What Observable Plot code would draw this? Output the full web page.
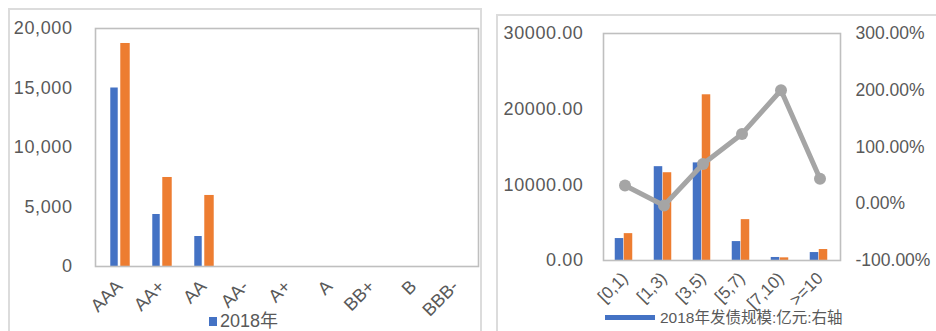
<!DOCTYPE html>
<html><head><meta charset="utf-8">
<script src="https://cdn.jsdelivr.net/npm/d3@7"></script>
<script src="https://cdn.jsdelivr.net/npm/@observablehq/plot@0.6"></script>
<style>
html,body{margin:0;padding:0;background:#fff;width:936px;height:331px;overflow:hidden;}
.layer{position:absolute;left:0;top:0;}
.panel{position:absolute;border:2px solid #dcdcdc;box-sizing:border-box;}
.legend{position:absolute;font-family:"Liberation Sans","Noto Sans CJK SC",sans-serif;color:#595959;white-space:nowrap;}
svg{overflow:visible}
.spaced g[aria-label="y-axis tick label"] text{letter-spacing:0.6px}
</style></head>
<body>
<div class="panel" style="left:8px;top:8px;width:474px;height:340px;"></div>
<div class="panel" style="left:496px;top:14px;width:460px;height:340px;"></div>
<div id="a" class="layer spaced"></div>
<div id="b" class="layer spaced"></div>
<div id="c" class="layer"></div>
<div class="legend" style="left:209px;top:306px;font-size:18px;"><span style="display:inline-block;width:8px;height:9px;background:#4472C4;margin-right:3px;vertical-align:1px"></span>2018年</div>
<div class="legend" style="left:605px;top:305px;font-size:15.5px;"><span style="display:inline-block;width:50px;height:5px;background:#4472C4;margin-right:5px;vertical-align:3px"></span>2018年发债规模:亿元:右轴</div>
<script>
// Left chart data
const ratings = ["AAA","AA+","AA","AA-","A+","A","BB+","B","BBB-"];
const ratingBlue = [15000, 4370, 2520, 0, 0, 0, 0, 0, 0];
const ratingOrange = [18740, 7480, 5970, 0, 0, 0, 0, 0, 0];
const leftTicks = [0, 5000, 10000, 15000, 20000];

// Right chart data
const terms = ["[0,1)","[1,3)","[3,5)","[5,7)","[7,10)",">=10"];
const termBlue = [2900, 12400, 12900, 2500, 400, 1050];
const termOrange = [3550, 11600, 21900, 5400, 350, 1450];
const termPct = [32, -3, 70, 123, 200, 44];
const rightLeftTicks = [0, 10000, 20000, 30000];
const rightRightTicks = [-100, 0, 100, 200, 300];

const FONT = '"Liberation Sans","Noto Sans CJK SC",sans-serif';
const W = 936, H = 331;
const BLUE = "#4472C4", ORANGE = "#ED7D31", GRAY = "#A5A5A5", FRAME = "#bfbfbf", TXT = "#595959";

function styleSvg(svg){ svg.style.fontFamily = FONT; svg.style.background = "transparent"; return svg; }

// ---- Left chart
{
  const mL = 95, mR = W - 478, mT = 28, mB = H - 266;
  const bw = (W - mL - mR) / ratings.length;
  const rows = ratings.map((r,i)=>({r, blue: ratingBlue[i], orange: ratingOrange[i]}));
  const svg = Plot.plot({
    width: W, height: H, marginLeft: mL, marginRight: mR, marginTop: mT, marginBottom: mB,
    style: {fontFamily: FONT, background: "transparent", color: TXT},
    x: {domain: ratings, padding: 0},
    y: {domain: [0, 20000]},
    marks: [
      Plot.barY(rows, {x: "r", y: "blue", fill: BLUE, insetLeft: bw/2 - 9, insetRight: bw/2 + 1}),
      Plot.barY(rows, {x: "r", y: "orange", fill: ORANGE, insetLeft: bw/2 + 1, insetRight: bw/2 - 11}),
      Plot.frame({stroke: FRAME, strokeWidth: 1.6}),
      Plot.axisY({ticks: leftTicks, tickFormat: d3.format(","), tickSize: 0, tickPadding: 23, fontSize: 18, label: null, fill: TXT}),
      Plot.axisX({tickSize: 0, tickPadding: 17, tickRotate: -45, fontSize: 18, label: null, fill: TXT})
    ]
  });
  document.getElementById("a").append(styleSvg(svg));
}

// ---- Right chart (bars, left axis)
const rmL = 603, rmR = W - 840, rmT = 33, rmB = H - 260;
{
  const bw = (W - rmL - rmR) / terms.length;
  const rows = terms.map((t,i)=>({t, blue: termBlue[i], orange: termOrange[i]}));
  const svg = Plot.plot({
    width: W, height: H, marginLeft: rmL, marginRight: rmR, marginTop: rmT, marginBottom: rmB,
    style: {fontFamily: FONT, background: "transparent", color: TXT},
    x: {domain: terms, padding: 0},
    y: {domain: [0, 30000]},
    marks: [
      Plot.barY(rows, {x: "t", y: "blue", fill: BLUE, insetLeft: bw/2 - 10, insetRight: bw/2 + 1}),
      Plot.barY(rows, {x: "t", y: "orange", fill: ORANGE, insetLeft: bw/2 - 1, insetRight: bw/2 - 8}),
      Plot.frame({stroke: FRAME, strokeWidth: 1.6}),
      Plot.axisY({ticks: rightLeftTicks, tickFormat: d3.format(".2f"), tickSize: 0, tickPadding: 20, fontSize: 18, label: null, fill: TXT}),
      Plot.axisX({tickSize: 0, tickPadding: 15, tickRotate: -45, fontSize: 17, label: null, fill: TXT})
    ]
  });
  document.getElementById("b").append(styleSvg(svg));
}

// ---- Right chart (line, right axis)
{
  const rows = terms.map((t,i)=>({t, p: termPct[i]}));
  const svg = Plot.plot({
    width: W, height: H, marginLeft: rmL, marginRight: rmR, marginTop: rmT, marginBottom: rmB,
    style: {fontFamily: FONT, background: "transparent", color: TXT},
    x: {type: "band", domain: terms, padding: 0, axis: null},
    y: {domain: [-100, 300]},
    marks: [
      Plot.lineY(rows, {x: "t", y: "p", stroke: GRAY, strokeWidth: 5, curve: "linear"}),
      Plot.dot(rows, {x: "t", y: "p", r: 6, fill: GRAY}),
      Plot.axisY({anchor: "right", ticks: rightRightTicks, tickFormat: v => v.toFixed(2) + "%", tickSize: 0, tickPadding: 15, fontSize: 17.5, label: null, fill: TXT})
    ]
  });
  document.getElementById("c").append(styleSvg(svg));
}
</script>
</body></html>
